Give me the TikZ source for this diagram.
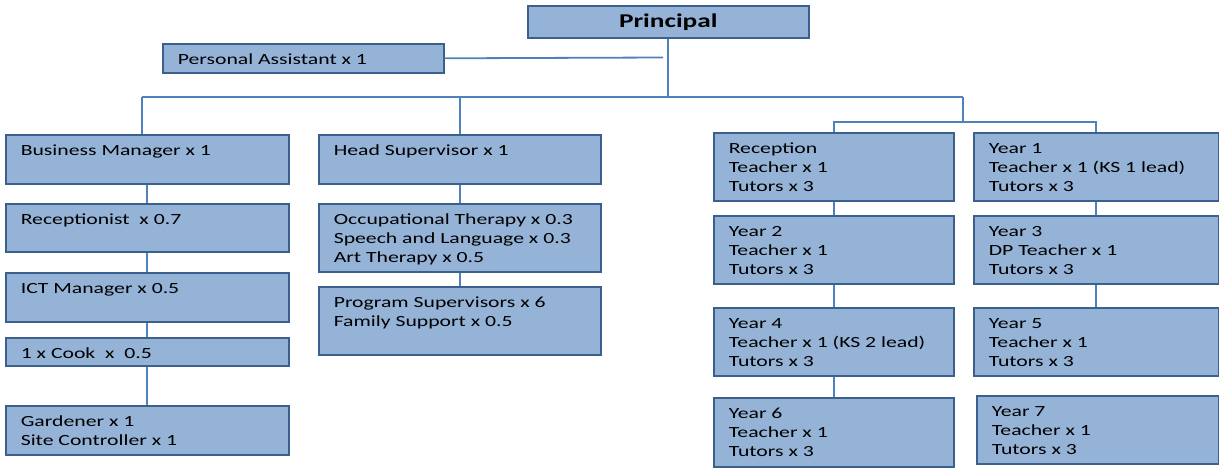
\documentclass[tikz,border=0pt]{standalone}
\usepackage{fontspec}
\setmainfont[FakeStretch=1.4]{Carlito}
\definecolor{boxfill}{RGB}{149,179,215}
\definecolor{boxline}{RGB}{60,96,142}
\definecolor{wireblue}{RGB}{79,129,189}
% box text: width, height, lines
\newcommand{\cell}[3]{\parbox[t][#2pt][t]{#1pt}{\raggedright\leftskip=15pt\vspace*{7.9pt}\strut#3}}
\tikzset{
  staffbox/.style={draw=boxline, fill=boxfill, line width=1.6pt, inner sep=0pt, anchor=north west},
  wire/.style={draw=wireblue, line width=1.8pt},
}
\begin{document}
\begin{tikzpicture}[x=1pt,y=-1pt]
  \fontsize{15.5}{18.7}\selectfont
  \useasboundingbox (0,0) rectangle (1219,472);
  % top
  \node[staffbox, minimum width=281pt, minimum height=32pt, font=\fontsize{19.5}{22}\selectfont\bfseries] (prin) at (527,5) {Principal};
  \node[staffbox] (pa) at (162,43) {\cell{281}{29}{Personal Assistant x 1}};
  % business side
  \node[staffbox] (bm) at (5,134) {\cell{283}{49}{Business Manager x 1}};
  \node[staffbox] (rcp) at (5,203) {\cell{283}{48}{Receptionist\ \ x 0.7}};
  \node[staffbox] (ict) at (5,272) {\cell{283}{49}{ICT Manager x 0.5}};
  \node[staffbox] (cook) at (5,337) {\cell{283}{28}{1 x Cook\ \ x\ \ 0.5}};
  \node[staffbox] (gard) at (5,405) {\cell{283}{49}{Gardener x 1\\Site Controller x 1}};
  % supervision
  \node[staffbox] (hs) at (318,134) {\cell{282}{49}{Head Supervisor x 1}};
  \node[staffbox] (ot) at (318,203) {\cell{282}{68}{Occupational Therapy x 0.3\\Speech and Language x 0.3\\Art Therapy x 0.5}};
  \node[staffbox] (ps) at (318,286) {\cell{282}{68}{Program Supervisors x 6\\Family Support x 0.5}};
  % year groups
  \node[staffbox] (rec) at (713,132) {\cell{240}{68}{Reception\\Teacher x 1\\Tutors x 3}};
  \node[staffbox] (y1) at (973,132) {\cell{245}{68}{Year 1\\Teacher x 1 (KS 1 lead)\\Tutors x 3}};
  \node[staffbox] (y2) at (713,215) {\cell{240}{68}{Year 2\\Teacher x 1\\Tutors x 3}};
  \node[staffbox] (y3) at (973,215) {\cell{245}{68}{Year 3\\DP Teacher x 1\\Tutors x 3}};
  \node[staffbox] (y4) at (713,307) {\cell{240}{68}{Year 4\\Teacher x 1 (KS 2 lead)\\Tutors x 3}};
  \node[staffbox] (y5) at (973,307) {\cell{245}{68}{Year 5\\Teacher x 1\\Tutors x 3}};
  \node[staffbox] (y6) at (713,397) {\cell{240}{69}{Year 6\\Teacher x 1\\Tutors x 3}};
  \node[staffbox] (y7) at (976,395) {\cell{242}{68}{Year 7\\Teacher x 1\\Tutors x 3}};
  % connectors
  \coordinate (paend) at (663,57.5);
  \coordinate (busL) at (142,97);
  \coordinate (busR) at (963,97);
  \coordinate (yearbus) at (963,122);
  \draw[wire] (pa.east) -- (paend);
  \draw[wire] (prin.south) -- (prin.south |- busL);
  \draw[wire] (busL) -- (busR);
  \draw[wire] (busL) -- (busL |- bm.north);
  \draw[wire] (busL -| hs.north) -- (hs.north);
  \draw[wire] (busR) -- (yearbus);
  \draw[wire] (rec.north) |- (yearbus) -| (y1.north);
  \foreach \a/\b in {bm/rcp, rcp/ict, ict/cook, cook/gard, hs/ot, ot/ps,
                     rec/y2, y2/y4, y4/y6, y1/y3, y3/y5}
    \draw[wire] (\a.south) -- (\b.north);
\end{tikzpicture}
\end{document}
